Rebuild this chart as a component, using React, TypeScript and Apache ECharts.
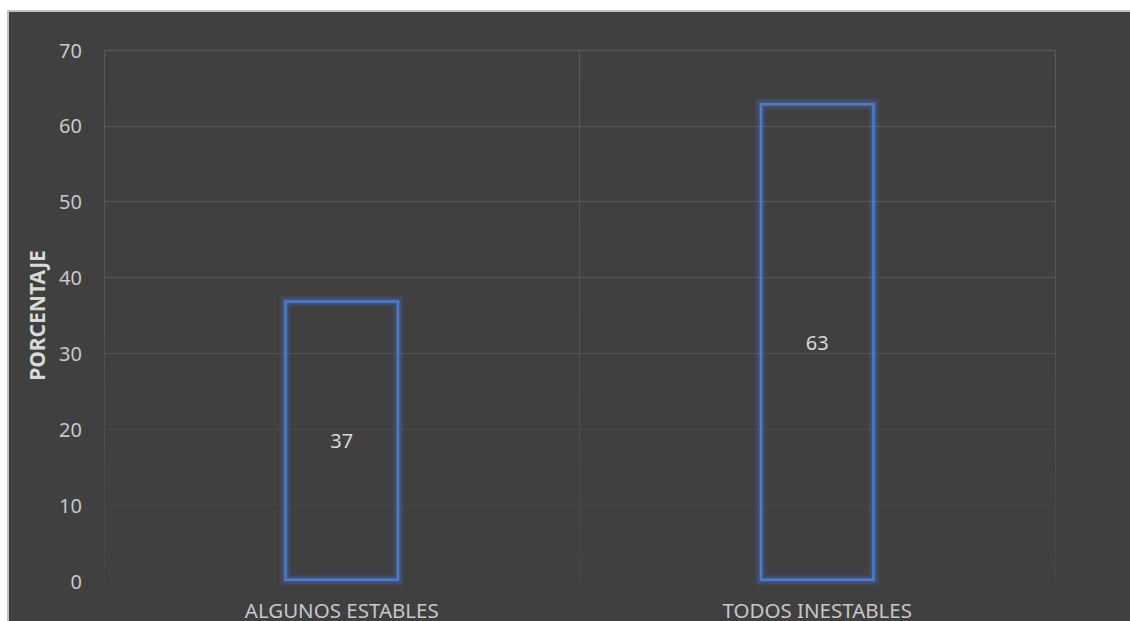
import React, { useEffect, useRef } from "react";
import * as echarts from "echarts";

const categories = ["ALGUNOS ESTABLES", "TODOS INESTABLES"];
const values = [37, 63];
const yTicks = { min: 0, max: 70, interval: 10 };
const yName = "PORCENTAJE";

export default function App() {
  const ref = useRef<HTMLDivElement>(null);
  useEffect(() => {
    if (!ref.current) return;
    const chart = echarts.init(ref.current, null, { renderer: "svg" });
    const font = "'Noto Sans', 'Open Sans', sans-serif";
    const barW = 115;
    const glowLayers = [
      { w: 12, a: 0.09 },
      { w: 8, a: 0.13 },
      { w: 5, a: 0.2 },
    ];
    chart.setOption({
      animation: false,
      backgroundColor: "#404040",
      textStyle: { fontFamily: font },
      grid: { left: 95, top: 38, width: 951, height: 531, containLabel: false },
      xAxis: {
        type: "category",
        data: categories,
        boundaryGap: true,
        axisLine: { show: false },
        axisTick: { show: false },
        axisLabel: { color: "#c8c8c8", fontSize: 20.5, margin: 18, fontFamily: font },
        splitLine: {
          show: true,
          lineStyle: {
            width: 1,
            color: {
              type: "linear",
              x: 0, y: 38, x2: 0, y2: 569,
              global: true,
              colorStops: [
                { offset: 0, color: "#5a5a5a" },
                { offset: 0.5, color: "#555555" },
                { offset: 1, color: "#444444" },
              ],
            },
          },
        },
      },
      yAxis: {
        type: "value",
        min: yTicks.min,
        max: yTicks.max,
        interval: yTicks.interval,
        name: yName,
        nameLocation: "middle",
        nameGap: 57,
        nameTextStyle: { color: "#d9d9d9", fontSize: 21, fontWeight: "bold", fontFamily: font },
        axisLine: { show: false },
        axisTick: { show: false },
        axisLabel: { color: "#c8c8c8", fontSize: 20, margin: 22, fontFamily: font },
        splitLine: {
          lineStyle: {
            width: 1,
            color: ["#414141", "#464646", "#4a4a4a", "#505050", "#555555", "#585858", "#5a5a5a", "#5a5a5a"],
          },
        },
      },
      series: [
        {
          type: "custom",
          data: values.map((v, i) => [i, v]),
          silent: true,
          z: 1,
          encode: { x: 0, y: 1 },
          renderItem: (params: any, api: any) => {
            const i = api.value(0);
            const v = api.value(1);
            const top = api.coord([i, v]);
            const base = api.coord([i, 0]);
            const x = top[0] - barW / 2 + 1;
            const w = barW - 2;
            const y = top[1] + 1;
            const h = base[1] - top[1] - 2;
            return {
              type: "group",
              children: glowLayers.map((g) => ({
                type: "rect",
                shape: { x, y, width: w, height: h },
                style: { fill: "none", stroke: `rgba(74,120,208,${g.a})`, lineWidth: g.w },
              })),
            };
          },
        },
        {
          type: "bar",
          data: values,
          barWidth: barW,
          z: 3,
          itemStyle: {
            color: "rgba(0,0,0,0)",
            borderColor: "#4a7bd2",
            borderWidth: 2.5,
          },
          label: {
            show: true,
            position: "inside",
            color: "#d9d9d9",
            fontSize: 20,
            fontFamily: font,
          },
        },
      ],
    });
    return () => chart.dispose();
  }, []);
  return (
    <div
      style={{
        position: "absolute",
        left: 7,
        top: 10,
        width: 1140,
        height: 660,
        borderTop: "2px solid #c0c0c0",
        borderLeft: "2px solid #c0c0c0",
        background: "#404040",
      }}
    >
      <div ref={ref} style={{ width: 1140, height: 660 }} />
    </div>
  );
}
